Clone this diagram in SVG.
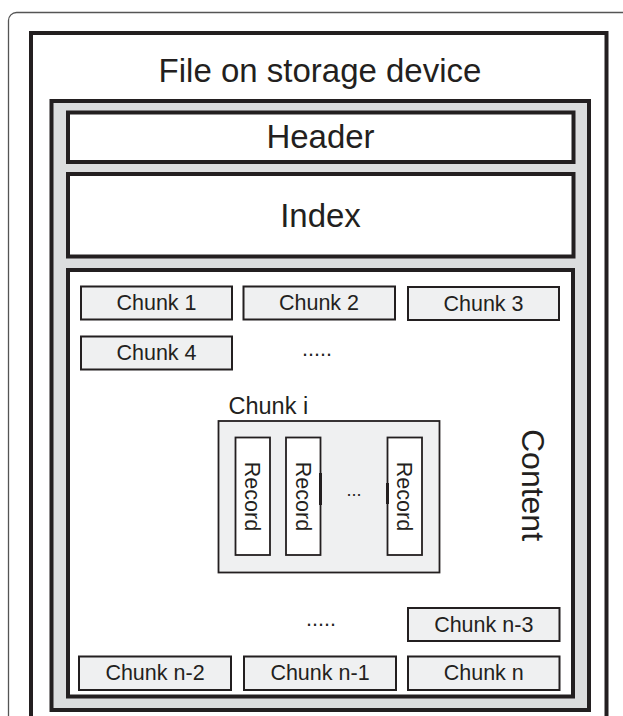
<svg xmlns="http://www.w3.org/2000/svg" width="623" height="716" viewBox="0 0 623 716">
<style>
  text { font-family: "Liberation Sans", Arial, sans-serif; fill: #231f20; }
  .big { font-size: 33px; text-anchor: middle; }
  .ck { font-size: 21.5px; text-anchor: middle; }
  .thick { fill: #ffffff; stroke: #231f20; stroke-width: 4; }
  .chunk { fill: #eff0f1; stroke: #231f20; stroke-width: 2; }
  .rec { fill: #ffffff; stroke: #231f20; stroke-width: 1.8; }
</style>
<rect width="623" height="716" fill="#ffffff"/>
<g id="frame">
  <path d="M8.5,730 V20.5 A8,8 0 0 1 16.5,12.5 H640" fill="none" stroke="#555555" stroke-width="1.3"/>
</g>
<g id="file">
  <path d="M31,730 V33 H606.5 V730" fill="#ffffff" stroke="#231f20" stroke-width="4"/>
  <text class="big" x="320" y="82">File on storage device</text>
</g>
<g id="container">
  <rect x="51.5" y="101" width="537.5" height="609" fill="#dcddde" stroke="#231f20" stroke-width="4"/>
</g>
<g id="header">
  <rect class="thick" x="68" y="112.5" width="505.5" height="49.5"/>
  <text class="big" x="320.5" y="148">Header</text>
</g>
<g id="index">
  <rect class="thick" x="68" y="174" width="505.5" height="82.5"/>
  <text class="big" x="320.5" y="227">Index</text>
</g>
<g id="content">
  <rect class="thick" x="68" y="270" width="505" height="426.5"/>
  <text transform="translate(521.5,485) rotate(90)" x="0" y="0" style="font-size:32px;text-anchor:middle">Content</text>
</g>
<g id="chunk1">
  <rect class="chunk" x="81" y="286.5" width="151" height="33"/>
  <text class="ck" x="156.5" y="310">Chunk 1</text>
</g>
<g id="chunk2">
  <rect class="chunk" x="243.5" y="286.5" width="151.5" height="33"/>
  <text class="ck" x="319" y="310">Chunk 2</text>
</g>
<g id="chunk3">
  <rect class="chunk" x="408" y="287" width="151" height="33"/>
  <text class="ck" x="483.5" y="310.5">Chunk 3</text>
</g>
<g id="chunk4">
  <rect class="chunk" x="81" y="336.5" width="151" height="33"/>
  <text class="ck" x="156.5" y="360">Chunk 4</text>
</g>
<g id="dots1">
  <text class="ck" x="317" y="356">.....</text>
</g>
<g id="chunki">
  <text x="228.5" y="414" style="font-size:23.5px">Chunk i</text>
  <rect x="218.5" y="421" width="221" height="151.5" fill="#eff0f1" stroke="#231f20" stroke-width="1.8"/>
  <g id="record1">
    <rect class="rec" x="235.5" y="437.5" width="34.5" height="117.5"/>
    <text transform="translate(245,496.5) rotate(90)" style="font-size:21.5px;text-anchor:middle">Record</text>
  </g>
  <g id="record2">
    <rect class="rec" x="286" y="437.5" width="34.5" height="117.5"/>
    <line x1="320.5" y1="473" x2="320.5" y2="505" stroke="#231f20" stroke-width="3"/>
    <text transform="translate(295.5,496.5) rotate(90)" style="font-size:21.5px;text-anchor:middle">Record</text>
  </g>
  <text x="354" y="496" style="font-size:18px;text-anchor:middle">...</text>
  <g id="record3">
    <rect class="rec" x="387.5" y="437.5" width="34.5" height="117.5"/>
    <line x1="387.5" y1="483" x2="387.5" y2="504" stroke="#231f20" stroke-width="3"/>
    <text transform="translate(397,496.5) rotate(90)" style="font-size:21.5px;text-anchor:middle">Record</text>
  </g>
</g>
<g id="dots2">
  <text class="ck" x="321" y="626">.....</text>
</g>
<g id="chunkn3">
  <rect class="chunk" x="408" y="608" width="151.5" height="33"/>
  <text class="ck" x="483.75" y="631.5">Chunk n-3</text>
</g>
<g id="chunkn2">
  <rect class="chunk" x="79" y="656.5" width="152" height="33.5"/>
  <text class="ck" x="155" y="680">Chunk n-2</text>
</g>
<g id="chunkn1">
  <rect class="chunk" x="244" y="656.5" width="152" height="33.5"/>
  <text class="ck" x="320" y="680">Chunk n-1</text>
</g>
<g id="chunkn">
  <rect class="chunk" x="408" y="656.5" width="151.5" height="33.5"/>
  <text class="ck" x="483.75" y="680">Chunk n</text>
</g>
<g id="connectors"/>
</svg>
